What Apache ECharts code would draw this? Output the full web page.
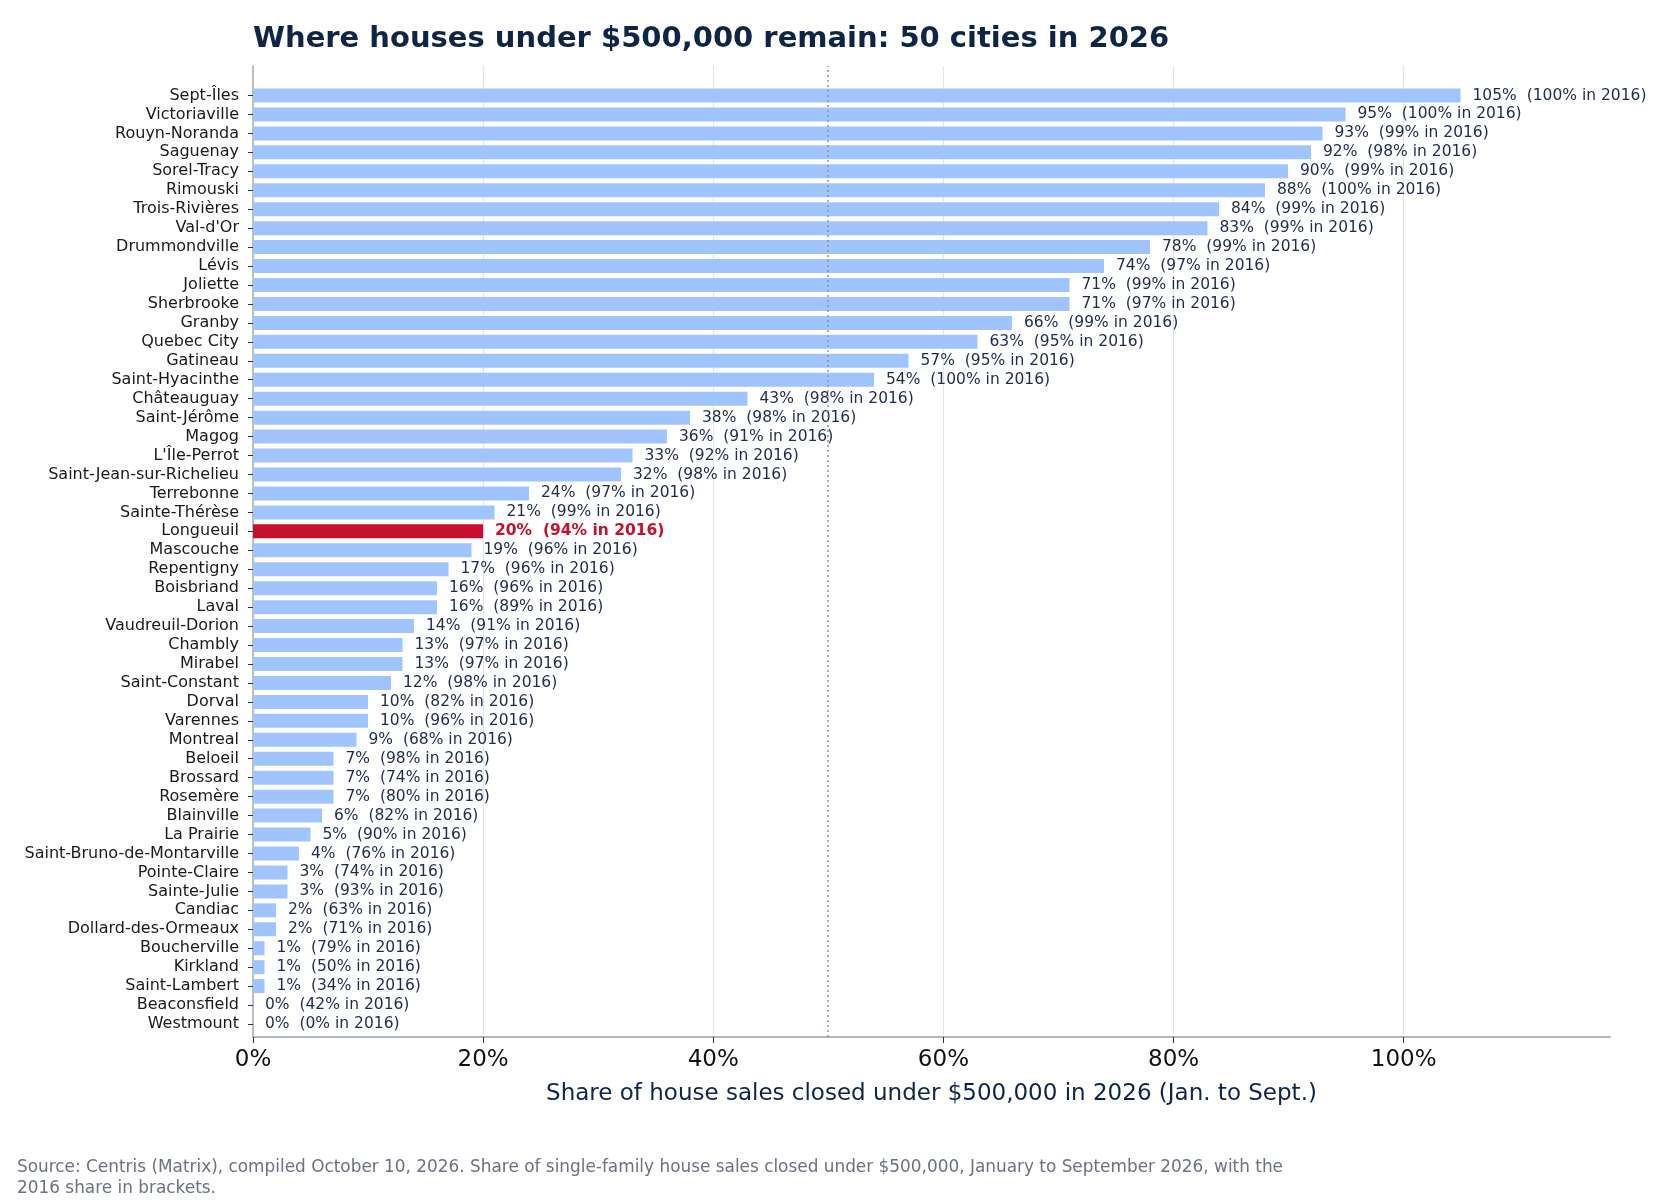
<!DOCTYPE html>
<html style="height: 100%">
<head>
<meta charset="utf-8">
</head>
<body style="height: 100%; margin: 0; background: #fff">
<div id="container" style="width: 1680px; height: 1204px"></div>
<script src="https://cdn.jsdelivr.net/npm/echarts@6/dist/echarts.min.js"></script>
<script>
var cities = ['Sept-Îles', 'Victoriaville', 'Rouyn-Noranda', 'Saguenay', 'Sorel-Tracy', 'Rimouski',
    'Trois-Rivières', "Val-d'Or", 'Drummondville', 'Lévis', 'Joliette', 'Sherbrooke', 'Granby',
    'Quebec City', 'Gatineau', 'Saint-Hyacinthe', 'Châteauguay', 'Saint-Jérôme', 'Magog',
    "L'Île-Perrot", 'Saint-Jean-sur-Richelieu', 'Terrebonne', 'Sainte-Thérèse', 'Longueuil',
    'Mascouche', 'Repentigny', 'Boisbriand', 'Laval', 'Vaudreuil-Dorion', 'Chambly', 'Mirabel',
    'Saint-Constant', 'Dorval', 'Varennes', 'Montreal', 'Beloeil', 'Brossard', 'Rosemère',
    'Blainville', 'La Prairie', 'Saint-Bruno-de-Montarville', 'Pointe-Claire', 'Sainte-Julie',
    'Candiac', 'Dollard-des-Ormeaux', 'Boucherville', 'Kirkland', 'Saint-Lambert',
    'Beaconsfield', 'Westmount'];
var share2026 = [105, 95, 93, 92, 90, 88, 84, 83, 78, 74, 71, 71, 66, 63, 57, 54, 43, 38, 36, 33,
    32, 24, 21, 20, 19, 17, 16, 16, 14, 13, 13, 12, 10, 10, 9, 7, 7, 7, 6, 5, 4, 3, 3, 2, 2, 1, 1, 1, 0, 0];
var share2016 = [100, 100, 99, 98, 99, 100, 99, 99, 99, 97, 99, 97, 99, 95, 95, 100, 98, 98, 91, 92,
    98, 97, 99, 94, 96, 96, 96, 89, 91, 97, 97, 98, 82, 96, 68, 98, 74, 80, 82, 90, 76, 74, 93, 63,
    71, 79, 50, 34, 42, 0];
var highlightCity = 'Longueuil';
var xTicks = [0, 20, 40, 60, 80, 100];
var thresholdPct = 50;

var navy = '#0f2548';
var barBlue = '#a0c4fd';
var red = '#c8102e';

var barData = share2026.map(function (v, i) {
    var item = { value: v };
    if (cities[i] === highlightCity) {
        item.itemStyle = { color: red };
        item.label = { color: red, fontWeight: 'bold' };
    }
    return item;
});

var chart = echarts.init(document.getElementById('container'));
var xMax = 118;

var option = {
    animation: false,
    backgroundColor: '#fff',
    textStyle: { fontFamily: 'DejaVu Sans' },
    title: {
        text: 'Where houses under $500,000 remain: 50 cities in 2026',
        left: 253,
        top: 25,
        padding: 0,
        textStyle: { fontFamily: 'DejaVu Sans', fontSize: 29, fontWeight: 'bold', color: navy }
    },
    grid: [
        // frame: axis lines + axis name
        { left: 253, right: 70, top: 66, bottom: 167 },
        // bars
        { left: 253, right: 70, top: 86, height: 947.5 },
        // ticks / gridlines 0..100
        { left: 253, width: 1150.7, top: 66, bottom: 167 }
    ],
    xAxis: [
        {
            gridIndex: 0, type: 'value', min: 0, max: xMax,
            axisLine: { show: true, lineStyle: { color: '#b1b5bf', width: 2 } },
            axisTick: { show: false }, axisLabel: { show: false }, splitLine: { show: false },
            name: 'Share of house sales closed under $500,000 in 2026 (Jan. to Sept.)',
            nameLocation: 'middle', nameGap: 46,
            nameTextStyle: { fontFamily: 'DejaVu Sans', fontSize: 23, color: navy }
        },
        {
            gridIndex: 1, type: 'value', min: 0, max: xMax, show: false
        },
        {
            gridIndex: 2, type: 'value', min: xTicks[0], max: xTicks[xTicks.length - 1], interval: 20,
            axisLine: { show: false },
            axisTick: { show: true, length: 6, lineStyle: { color: '#333', width: 1 } },
            axisLabel: { fontFamily: 'DejaVu Sans', fontSize: 23, color: '#111', margin: 12,
                formatter: function (v) { return v + '%'; } },
            splitLine: { show: true, lineStyle: { color: '#e3e5e9', width: 1.2 } }
        }
    ],
    yAxis: [
        {
            gridIndex: 0, type: 'value', min: 0, max: 1,
            axisLine: { show: true, lineStyle: { color: '#a8adb7', width: 1.5 } },
            axisTick: { show: false }, axisLabel: { show: false }, splitLine: { show: false }
        },
        {
            gridIndex: 1, type: 'category', data: cities, inverse: true,
            axisLine: { show: false },
            axisTick: { show: true, alignWithLabel: true, interval: 0, length: 5, lineStyle: { color: '#333', width: 1 } },
            axisLabel: { fontFamily: 'DejaVu Sans', fontSize: 16, color: '#1a1a1a', margin: 14, interval: 0 },
            splitLine: { show: false }
        },
        {
            gridIndex: 2, type: 'value', min: 0, max: 1, show: false
        }
    ],
    series: [
        {
            type: 'bar',
            xAxisIndex: 1, yAxisIndex: 1,
            data: barData,
            barWidth: 14,
            itemStyle: { color: barBlue },
            label: {
                show: true, position: 'right', distance: 12,
                fontFamily: 'DejaVu Sans', fontSize: 15.5, color: '#1f2d4a',
                formatter: function (p) {
                    return share2026[p.dataIndex] + '%  (' + share2016[p.dataIndex] + '% in 2016)';
                }
            },
            z: 3
        },
        {
            type: 'line',
            xAxisIndex: 0, yAxisIndex: 0,
            data: [],
            markLine: {
                silent: true, symbol: ['none', 'none'], label: { show: false },
                lineStyle: { color: '#8f949c', type: [2, 3], width: 1.5 },
                data: [{ xAxis: thresholdPct }]
            },
            z: 5
        }
    ],
    graphic: [
        {
            type: 'text', left: 17, top: 1157,
            style: {
                text: 'Source: Centris (Matrix), compiled October 10, 2026. Share of single-family house sales closed under $500,000, January to September 2026, with the\n2016 share in brackets.',
                fontFamily: 'DejaVu Sans', fontSize: 16.9, lineHeight: 21, fill: '#6b7280'
            }
        }
    ]
};

chart.setOption(option);
</script>
</body>
</html>
